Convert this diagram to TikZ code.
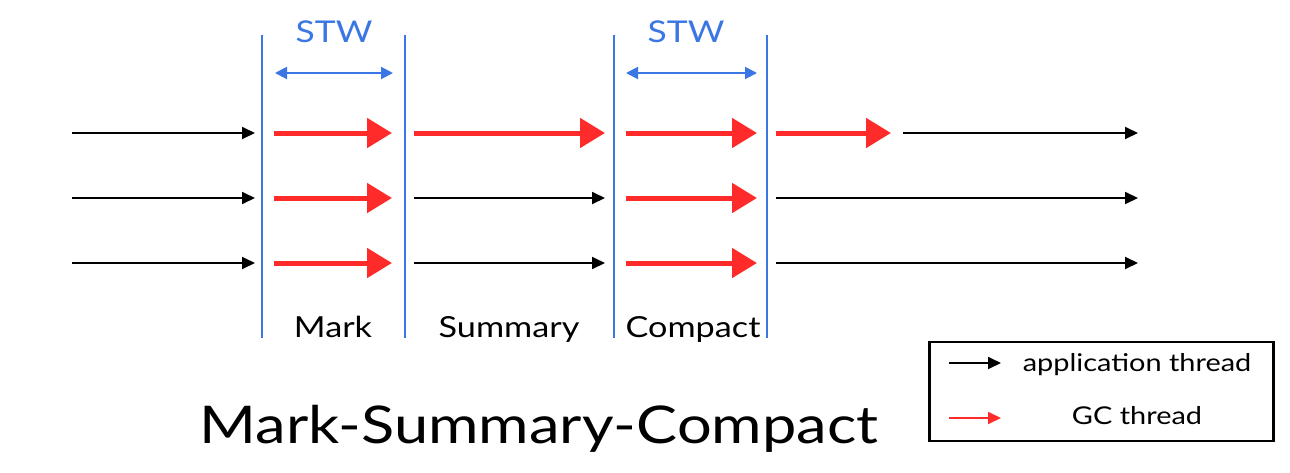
\documentclass[tikz,border=0pt]{standalone}
\usepackage{fontspec}
\setmainfont{Lato}[FakeStretch=1.18]
\usetikzlibrary{arrows.meta}
\definecolor{gcred}{RGB}{255,42,42}
\definecolor{stwblue}{RGB}{58,118,228}
\begin{document}
\begin{tikzpicture}[x=1pt,y=-1pt,
  app/.style={line width=1.8pt,-{Triangle[length=13pt,width=12pt]}},
  gc/.style={line width=5pt,gcred,-{Triangle[length=25pt,width=29pt]}},
  gcthin/.style={line width=1.8pt,gcred,-{Triangle[length=13pt,width=12pt]}},
  phase/.style={stwblue,line width=2.2pt},
  stw/.style={stwblue,line width=2pt,{Triangle[length=12pt,width=12pt]}-{Triangle[length=12pt,width=12pt]}},
  lbl/.style={font=\fontsize{29}{31}\selectfont,anchor=base,inner sep=0pt},
  stwlbl/.style={font=\fontsize{30}{32}\selectfont,anchor=base,inner sep=0pt,text=stwblue},
  legtext/.style={font=\fontsize{24.5}{26}\selectfont,anchor=base,inner sep=0pt},
]
\useasboundingbox (0,0) rectangle (1290,472);

% phase boundary lines
\foreach \n/\x in {1/262,2/405,3/614,4/767}{
  \coordinate (p\n t) at (\x,35);
  \coordinate (p\n b) at (\x,338);
  \draw[phase] (p\n t) -- (p\n b);
}

% STW markers
\coordinate (s1a) at (275,73); \coordinate (s1b) at (393,73);
\coordinate (s2a) at (626,73); \coordinate (s2b) at (757,73);
\draw[stw] (s1a) -- (s1b);
\draw[stw] (s2a) -- (s2b);
\node[stwlbl] (stw1) at (334,42) {STW};
\node[stwlbl] (stw2) at (686,42) {STW};

% rows
\foreach \r/\y in {1/133,2/198,3/263}{
  \coordinate (a\r s) at (72,\y);  \coordinate (a\r e) at (255,\y);
  \coordinate (m\r s) at (274,\y); \coordinate (m\r e) at (392,\y);
  \coordinate (u\r s) at (414,\y); \coordinate (u\r e) at (605,\y);
  \coordinate (c\r s) at (626,\y); \coordinate (c\r e) at (757,\y);
  \coordinate (z\r s) at (776,\y); \coordinate (z\r e) at (1138,\y);
  \draw[app] (a\r s) -- (a\r e);
  \draw[gc] (m\r s) -- (m\r e);
  \draw[gc] (c\r s) -- (c\r e);
}
\coordinate (r1m) at (891,133); \coordinate (r1n) at (903,133);
\draw[gc] (u1s) -- (u1e);
\draw[app] (u2s) -- (u2e);
\draw[app] (u3s) -- (u3e);
\draw[gc] (z1s) -- (r1m);
\draw[app] (r1n) -- (z1e);
\draw[app] (z2s) -- (z2e);
\draw[app] (z3s) -- (z3e);

% phase labels
\node[lbl] (mark) at (333,337) {Mark};
\node[lbl] (summary) at (509,337) {Summary};
\node[lbl] (compact) at (693,337) {Compact};

% title
\node[font=\fontsize{52}{54}\selectfont,anchor=base,inner sep=0pt] (title) at (539,443) {Mark-Summary-Compact};

% legend
\node[draw,line width=2.8pt,minimum width=344pt,minimum height=99pt,inner sep=0pt] (legend) at (1101.5,391.5) {};
\coordinate (l1s) at (949,363); \coordinate (l1e) at (1001,363);
\coordinate (l2s) at (949,418); \coordinate (l2e) at (1001,418);
\draw[app] (l1s) -- (l1e);
\draw[gcthin] (l2s) -- (l2e);
\node[legtext] (lapp) at (1137,371) {application thread};
\node[legtext] (lgc) at (1137,424) {GC thread};
\end{tikzpicture}
\end{document}
